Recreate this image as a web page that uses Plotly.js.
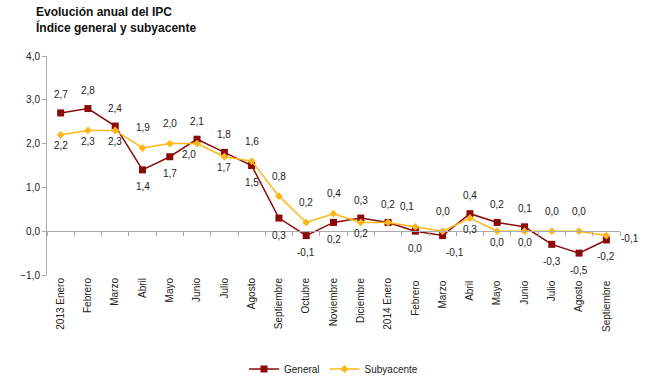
<!DOCTYPE html>
<html>
<head>
<meta charset="utf-8">
<script src="https://cdn.plot.ly/plotly-3.0.1.min.js"></script>
<style>html,body{margin:0;padding:0;background:#fff;}#chart{width:646px;height:378px;}</style>
</head>
<body>
<div id="chart"></div>
<script>
var categories = ["2013 Enero","Febrero","Marzo","Abril","Mayo","Junio","Julio","Agosto","Septiembre","Octubre","Noviembre","Diciembre","2014 Enero","Febrero ","Marzo ","Abril ","Mayo ","Junio ","Julio ","Agosto ","Septiembre "];
var general = [2.7, 2.8, 2.4, 1.4, 1.7, 2.1, 1.8, 1.5, 0.3, -0.1, 0.2, 0.3, 0.2, 0.0, -0.1, 0.4, 0.2, 0.1, -0.3, -0.5, -0.2];
var subyacente = [2.2, 2.3, 2.3, 1.9, 2.0, 2.0, 1.7, 1.6, 0.8, 0.2, 0.4, 0.2, 0.2, 0.1, 0.0, 0.3, 0.0, 0.0, 0.0, 0.0, -0.1];
var yTicks = [-1, 0, 1, 2, 3, 4];
// label placement codes: a=above, b=below, l/r suffix = nudge, r=right, n=none
var generalLabelPos = ["a","a","a","b","b","a","a","b","b","b","b","a","a","b","br","a","a","a","b","b","b"];
var subyacenteLabelPos = ["b","b","b","a","a","bl","b","a","a","a","a","b","n","al","a","b","b","b","a","a","r"];

var FONT = "Liberation Sans, Arial, sans-serif";
var cGen = "#8B0A0A", cSub = "#FFB619";
function fmt(v){ return v.toFixed(1).replace(".", ","); }
function labels(vals, pos, up, down){
  var out = [];
  for (var i = 0; i < vals.length; i++) {
    var p = pos[i];
    if (p === "n") continue;
    var a = {x: categories[i], y: vals[i], xref: "x", yref: "y", text: fmt(vals[i]), showarrow: false,
             font: {family: FONT, size: 10, color: "#222"}, xshift: 0, yshift: 0};
    if (p.charAt(0) === "a") a.yshift = up;
    else if (p.charAt(0) === "b") a.yshift = -down;
    if (p === "r") { a.xshift = 24; a.yshift = -3; }
    else if (p.length > 1) a.xshift = p.charAt(1) === "l" ? -8 : 12;
    out.push(a);
  }
  return out;
}

var traces = [
  {x: categories, y: general, name: "General", type: "scatter", mode: "lines+markers",
   line: {color: cGen, width: 1.5}, marker: {symbol: "square", size: 7, color: cGen}, hoverinfo: "skip"},
  {x: categories, y: subyacente, name: "Subyacente", type: "scatter", mode: "lines+markers",
   line: {color: cSub, width: 1.5}, marker: {symbol: "diamond", size: 6, color: cSub}, hoverinfo: "skip"},
  {x: categories, y: categories.map(function(){return null;}), xaxis: "x2", yaxis: "y", showlegend: false,
   type: "scatter", mode: "lines", hoverinfo: "skip"}
];

var titleAnn = {text: "<b>Evolución anual del IPC<br>Índice general y subyacente</b>",
  xref: "paper", yref: "paper", x: (34 - 47) / 573, y: 1 + (56 - 3) / 219, xanchor: "left", yanchor: "top",
  align: "left", showarrow: false, font: {family: FONT, size: 12, color: "#111"}};

var layout = {
  width: 646, height: 378,
  margin: {l: 47, r: 26, t: 56, b: 103},
  paper_bgcolor: "#fff", plot_bgcolor: "#fff",
  separators: ",.",
  font: {family: FONT, size: 10, color: "#222"},
  xaxis: {type: "category", categoryorder: "array", categoryarray: categories, range: [-0.5, 20.5],
          showline: false, showgrid: false, zeroline: false, ticks: "", tickangle: -90,
          tickfont: {size: 10, color: "#222"}, fixedrange: true, automargin: false},
  xaxis2: {type: "category", categoryorder: "array", categoryarray: categories, range: [-0.5, 20.5],
           overlaying: "x", anchor: "free", position: 0.2, showline: true, linecolor: "#aaa", linewidth: 1,
           ticks: "outside", ticklen: 4, tickcolor: "#aaa", tickson: "boundaries", showticklabels: false,
           showgrid: false, zeroline: false, automargin: false},
  yaxis: {range: [-1, 4], tickvals: yTicks, tickformat: ".1f", showline: true, linecolor: "#aaa", linewidth: 1,
          ticks: "outside", ticklen: 4, tickcolor: "#aaa", showgrid: false, zeroline: false,
          tickfont: {size: 10, color: "#222"}, automargin: false},
  showlegend: true,
  legend: {orientation: "h", x: 0.5, xanchor: "center", yref: "container", y: (378 - 369) / 378, yanchor: "middle",
           font: {size: 10, color: "#222"}, bgcolor: "rgba(0,0,0,0)"},
  annotations: [titleAnn].concat(labels(general, generalLabelPos, 18, 17)).concat(labels(subyacente, subyacenteLabelPos, 20, 11))
};

Plotly.newPlot("chart", traces, layout, {displayModeBar: false, staticPlot: true});
</script>
</body>
</html>
